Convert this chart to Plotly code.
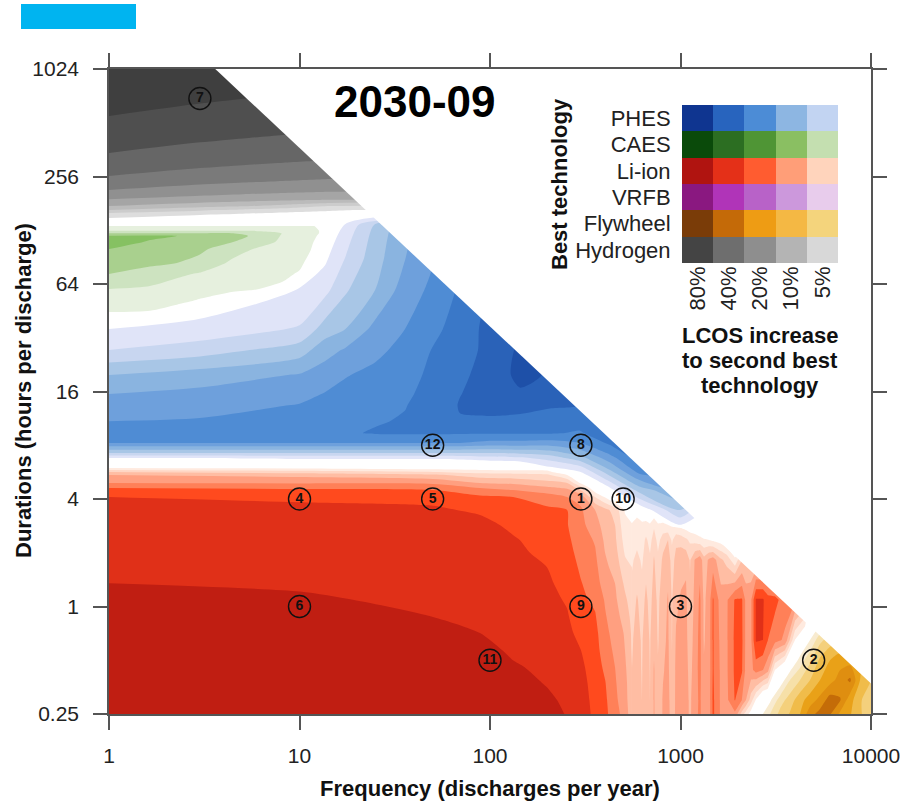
import plotly.graph_objects as go

# ---------- axes ----------
x_ticks = [1, 10, 100, 1000, 10000]
y_ticks = [0.25, 1, 4, 16, 64, 256, 1024]
y_tick_text = ["0.25", "1", "4", "16", "64", "256", "1024"]

# ---------- feasibility limit: frequency x duration (hours per year) ----------
limit_hours = 3700

# ---------- study points ----------
pt_freq = [300, 5000, 1000, 10, 50, 10, 3, 300, 300, 500, 100, 50]
pt_dur = [4, 0.5, 1, 4, 4, 1, 700, 8, 1, 4, 0.5, 8]
pt_label = ["1", "2", "3", "4", "5", "6", "7", "8", "9", "10", "11", "12"]

# ---------- legend ----------
leg_rows = ["Hydrogen", "Flywheel", "VRFB", "Li-ion", "CAES", "PHES"]
leg_cols = ["80%", "40%", "20%", "10%", "5%"]
leg_colors = [
    ["#444444", "#6E6E6E", "#8E8E8E", "#B4B4B4", "#D8D8D8"],
    ["#7A3C08", "#C46A08", "#EE9C14", "#F4B844", "#F4D47C"],
    ["#8A1880", "#B034B8", "#B862C8", "#CC98DC", "#E8CCEC"],
    ["#B01410", "#E43018", "#FF5C30", "#FF9E78", "#FFD4BC"],
    ["#0A4A0A", "#2C6E22", "#4F9535", "#8ABF62", "#C4DFB0"],
    ["#0F3590", "#2864BE", "#4C8CD6", "#8DB6E2", "#C2D4F2"],
]
lcos_lines = ["LCOS increase", "to second best", "technology"]

# ---------- margin level of the best technology on (frequency, duration) grids ----------
h2_f = [1, 3, 5.05, 8.2, 14.4, 23.4]
h2_d = [1024, 559, 347, 258, 215, 191, 175, 166, 160, 150, 139]
h2_z = [
    [9.9, 9.7, 9.6, 9.5, 9.4, 9.3],
    [9, 8.75, 8.65, 8.56, 8.45, 8.4],
    [8, 7.7, 7.58, 7.47, 7.35, 7.25],
    [7, 6.64, 6.49, 6.37, 6.22, 6.12],
    [6, 5.6, 5.45, 5.32, 5.19, 5.1],
    [5, 4.64, 4.47, 4.33, 4.19, 4.06],
    [4, 3.4, 3.1, 2.68, 2, 1.9],
    [3, 2.14, 1.79, 1.49, 1.17, 0.9],
    [2, 1.45, 1.17, 0.9, 0.6, 0.5],
    [1, 0.3, 0.1, 0, -0.3, -0.5],
    [-1, -1, -1, -1, -1, -1],
]
h2_colors = ["#DDDDDD", "#CCCCCC", "#BBBBBB", "#A5A5A5", "#909090", "#7A7A7A", "#666666", "#4F4F4F", "#3F3F3F"]

caes_f = [1, 1.64, 2.27, 3, 4.48, 5.7, 8.19, 10, 11.4, 13.1, 16.3]
caes_d = [146, 135, 127, 123, 119, 110, 100.5, 84, 72.8, 60, 52, 44.6, 37.7]
caes_z = [
    [-1, -1, -1, -1, -1, -1, -1, -1, -1, -1, -1],
    [1.05, 1.05, 1.05, 1.05, 1.05, 1.05, 1.05, 1.05, 1.05, 0.9, -1],
    [2, 2, 2, 2, 2, 2, 2, 1.5, 1.3, 0.9, -1],
    [3, 3, 3, 3, 3, 3, 1.95, 1.5, 1.3, 0.9, -1],
    [4.1, 4.2, 4, 3.8, 3.3, 2.9, 1.9, 1.5, 1.25, 0.8, -1],
    [4.5, 3.9, 3.8, 3.5, 3, 2.7, 1.75, 1.45, 1.15, 0.6, -1],
    [4, 3.7, 3.55, 3.2, 2.4, 2, 1.6, 1.35, 1.05, 0.3, -1],
    [3.45, 3.2, 3, 2.7, 1.8, 1.6, 1.4, 1.2, 0.7, -1, -1],
    [3, 2.6, 2.2, 1.9, 1.5, 1.4, 1.2, 0.9, 0.2, -1, -1],
    [2, 1.85, 1.5, 1.4, 1.1, 1.05, 0.8, 0.3, -1, -1, -1],
    [1.5, 1.4, 1.25, 0.95, 0.7, 0.5, 0.2, -0.5, -1, -1, -1],
    [1, 0.95, 0.6, 0.2, 0, -0.5, -1, -1, -1, -1, -1],
    [-1, -1, -1, -1, -1, -1, -1, -1, -1, -1, -1],
]
caes_colors = ["#E6F0DE", "#CDE3C0", "#A9D08E", "#86C162"]

phes_f = [1, 3, 10, 13.6, 17.3, 24.9, 35.8, 48.4, 69.6, 100, 144, 206, 297, 427, 613, 994, 1611]
phes_d = [166, 137, 87, 59, 35.8, 27.3, 19.8, 15.5, 13.4, 10.9, 9.37, 8.24, 7.24, 6.79, 5.81, 4.49, 3.47, 2.68]
phes_z = [
    [-1, -1, -1, -1, -1, -1, -1, 5.3, 6.4, 7, 8.5, 8.8, 8, 8, 8, 7, 2],
    [-1, -1, -1, -1, 1.1, 3.1, 4.7, 5.5, 6.5, 7.2, 8.5, 8.8, 8, 8, 8, 7, 2],
    [-1, 0, 0.3, 0.85, 2.05, 3.6, 5, 5.85, 6.9, 7.8, 8.5, 8.8, 8, 8, 8, 7, 2],
    [0, 0, 1.05, 1.7, 2.85, 4, 5.5, 6.15, 7.15, 8.1, 8.6, 8.8, 8, 8, 8, 7, 2],
    [1, 1.36, 2.1, 3.45, 3.97, 5.3, 6, 6.7, 7.4, 8.35, 8.8, 8.8, 8, 8, 8, 7, 2],
    [2, 2.5, 3.5, 4.6, 5.1, 5.8, 6.25, 6.98, 7.7, 8.2, 9.2, 8.9, 8, 8, 8, 7, 2],
    [4, 4.47, 5.07, 5.5, 5.95, 6.2, 6.55, 7.2, 7.95, 8.1, 9.4, 8.85, 8, 8, 8, 7, 2],
    [5, 5.27, 5.7, 6.05, 6.2, 6.45, 6.8, 7.35, 7.98, 8.3, 8.8, 8.4, 8, 8, 8, 7, 2],
    [5.4, 5.6, 6.05, 6.25, 6.35, 6.6, 6.95, 7.45, 8.05, 8.3, 8.3, 8.1, 8, 8, 8, 7, 2],
    [6, 6.1, 6.35, 6.5, 6.6, 6.9, 7.1, 7.35, 7.95, 7.85, 7.75, 7.6, 7.4, 8, 8, 7, 2],
    [6.8, 6.8, 6.8, 6.8, 6.85, 7.1, 7.15, 7.15, 7.1, 7.1, 7.1, 7.1, 6.9, 7.7, 8, 7, 2],
    [6, 6, 6, 6, 6, 6, 6, 6, 6, 5.7, 5.7, 5.6, 6, 7.2, 8, 7, 2],
    [3, 3, 3, 3, 3, 3, 3, 3, 3, 3, 3.2, 3.5, 4.5, 6.2, 8, 7, 2],
    [1, 1, 1.2, 1.2, 1.2, 1.2, 1.2, 1.2, 1.3, 1.6, 1.8, 2.4, 3.6, 5.6, 7.5, 7, 2],
    [-1, -1, -1, -1, -1, -1, -1, -1, -1, -1, -1, 0.5, 1.2, 4, 6.6, 6.5, 2],
    [-1, -1, -1, -1, -1, -1, -1, -1, -1, -1, -1, -1, -1, 0.6, 3.5, 5, 2],
    [-1, -1, -1, -1, -1, -1, -1, -1, -1, -1, -1, -1, -1, -1, 0.2, 3, 0],
    [-1, -1, -1, -1, -1, -1, -1, -1, -1, -1, -1, -1, -1, -1, -1, 0.3, -1],
]
phes_colors = ["#E0E4F8", "#C8D6F0", "#A8C6E6", "#8AB4E0", "#6EA0DC", "#4F8CD4", "#3A78C8", "#2A62B8", "#1E50A8"]

liion_f = [1, 10, 50.2, 88.6, 132, 199, 254, 300, 356, 402, 453, 511, 556]
liion_d = [6.62, 5.97, 5.67, 5.45, 4.92, 4.61, 4.10, 3.47, 2.86, 2.36, 2.0, 1.66, 1.35, 1.09, 0.874, 0.71, 0.57, 0.458, 0.373, 0.299, 0.25]
liion_z = [
    [-1, -1, -1, -1, -1, -1, -1, -1, -1, -1, -1, -1, -1],
    [1, 0.8, 0.5, 0.4, 0.3, 0.3, -1, -1, -1, -1, -1, -1, -1],
    [3, 2.5, 2, 1.6, 1.5, 1.4, -0.2, -1, -1, -1, -1, -1, -1],
    [4, 3.7, 3.2, 2.5, 2.4, 2.2, 1, -0.5, -1, -1, -1, -1, -1],
    [5, 4.9, 4.8, 4, 3.8, 3.3, 3, 0.8, -1, -1, -1, -1, -1],
    [6, 5.9, 5.8, 5, 4.7, 4.2, 3.9, 2.5, 0.1, -1, -1, -1, -1],
    [7, 6.9, 6.7, 6.2, 6, 5.5, 5, 4.6, 2, 0.9, -0.5, -0.5, -0.5],
    [7.15, 7.15, 7.15, 6.85, 6.4, 6.2, 6, 5.15, 4, 3.3, 2.6, 0.9, 0.3],
    [7.3, 7.3, 7.3, 7.3, 6.8, 6.4, 6.05, 5.3, 4.4, 3.6, 3, 1.3, 1.1],
    [7.4, 7.4, 7.4, 7.4, 7.1, 6.6, 6.2, 5.5, 4.9, 3.8, 3.2, 1.6, 1.4],
    [7.5, 7.5, 7.5, 7.45, 7.2, 6.8, 6.35, 5.65, 5.1, 4, 3.4, 1.9, 1.7],
    [7.7, 7.65, 7.6, 7.5, 7.3, 7, 6.5, 5.85, 5.3, 4.2, 3.7, 2.3, 2],
    [8, 7.9, 7.7, 7.6, 7.4, 7.15, 6.7, 6.05, 5.5, 4.5, 4, 2.8, 2.3],
    [8.2, 8.1, 7.85, 7.7, 7.45, 7.3, 6.9, 6.2, 5.8, 4.9, 4.2, 3.2, 2.5],
    [8.3, 8.3, 8, 7.85, 7.55, 7.4, 7.1, 6.4, 6.1, 5.1, 4.4, 3.6, 2.7],
    [8.4, 8.4, 8.2, 8, 7.65, 7.5, 7.25, 6.7, 6.3, 5.3, 4.6, 3.9, 2.85],
    [8.5, 8.5, 8.35, 8.3, 7.85, 7.65, 7.4, 7, 6.4, 5.5, 4.8, 4, 2.9],
    [8.6, 8.6, 8.5, 8.5, 8.1, 7.8, 7.55, 7.2, 6.5, 5.8, 5, 4.2, 3],
    [8.7, 8.7, 8.6, 8.7, 8.3, 7.95, 7.7, 7.35, 6.6, 6.05, 5.1, 4.4, 3.05],
    [8.8, 8.8, 8.7, 8.8, 8.5, 8.15, 7.85, 7.45, 6.7, 6.2, 5.2, 4.5, 3.1],
    [8.9, 8.9, 8.8, 8.9, 8.6, 8.3, 7.95, 7.55, 6.75, 6.3, 5.3, 4.7, 3.2],
]
liion_colors = ["#FFEADF", "#FFD6C4", "#FFBDA3", "#FF9F80", "#FF8058", "#FF4A1E", "#E03018", "#C01E12"]

# the striped Li-ion zone at higher frequencies (columns of values)
stripe_d = [4.10, 3.47, 2.86, 2.36, 1.82, 1.09, 0.649, 0.441, 0.299, 0.25]
stripe_cols = [
    (556, [-0.5, 0.3, 1.1, 1.4, 1.8, 2.5, 2.9, 3.0, 3.1, 3.2]),
    (591, [-1, 0.7, 1.3, 1.6, 2.4, 3.1, 3.3, 3.3, 3.4, 3.4]),
    (628, [-1, 0.3, 1.2, 1.5, 1.8, 2.6, 2.9, 2.95, 3, 3]),
    (659, [-1, 0.2, 1.3, 2.2, 2.7, 3.2, 3.5, 3.6, 3.7, 3.7]),
    (692, [-1, 0.1, 1.1, 1.6, 2.2, 2.7, 2.9, 2.95, 3, 3.1]),
    (726, [-1, 0, 1.8, 2.6, 3.1, 3.4, 3.8, 4.1, 4.1, 4.1]),
    (762, [-1, 0, 1.1, 1.6, 2.3, 2.8, 2.9, 3.1, 3.2, 3.3]),
    (809, [-1, -0.2, 1.2, 2.6, 3.2, 3.5, 3.7, 3.9, 4.1, 4.1]),
    (860, [-1, -0.3, 1, 3, 3.6, 4.1, 4.2, 4.3, 4.4, 4.4]),
    (902, [-1, -0.4, 0.9, 1.8, 2.6, 2.9, 2.95, 3.1, 3.3, 3.4]),
    (947, [-1, -0.5, 0.7, 2.8, 3.3, 3.8, 4.1, 4.2, 4.2, 4.2]),
    (1006, [-1, -0.7, 0.6, 2.6, 3.7, 4.1, 4.3, 4.4, 4.4, 4.4]),
    (1069, [-1, -0.8, 0.4, 2.2, 3.8, 4.2, 4.3, 4.4, 4.4, 4.4]),
    (1122, [-1, -0.9, 0.2, 1.8, 2.9, 3.2, 3.4, 3.6, 3.8, 3.8]),
    (1191, [-1, -1, 0.1, 1.6, 4.1, 4.3, 4.5, 4.6, 4.6, 4.7]),
    (1265, [-1, -1, 0, 1.3, 4.7, 5.2, 5.3, 5.3, 5.2, 5.2]),
    (1328, [-1, -1, -0.2, 1.1, 3.4, 3.8, 3.9, 4.1, 4.2, 4.2]),
    (1411, [-1, -1, -0.3, 1, 4.2, 4.4, 4.5, 4.5, 4.5, 4.5]),
    (1481, [-1, -1, -0.5, 0.8, 4.5, 6.1, 6.1, 6.1, 6.2, 6.2]),
    (1632, [-1, -1, -1, 0.5, 3.2, 4.5, 4.7, 4.8, 4.8, 4.8]),
    (1754, [-1, -1, -1, 0.2, 2.6, 4.9, 4.9, 4.9, 4.8, 4.6]),
    (1931, [-1, -1, -1, -1, 1.3, 6.1, 6.2, 6.2, 6.05, 4.8]),
    (2102, [-1, -1, -1, -1, 3, 6.1, 6.2, 6.1, 5, 2.5]),
    (2208, [-1, -1, -1, -1, 3, 4.7, 4.7, 4.7, 4, 1.5]),
    (2344, [-1, -1, -1, -1, 3, 4.8, 4.8, 4.7, 2.5, 0.5]),
    (2489, [-1, -1, -1, -1, 3, 7.1, 7.1, 5.4, 0.9, -1]),
    (2711, [-1, -1, -1, -1, 3, 7.1, 7, 5, -0.8, -1]),
    (2878, [-1, -1, -1, -1, 3, 6.4, 6, 4.3, -1, -1]),
    (3131, [-1, -1, -1, -1, 3, 6.3, 5.4, 1, -1, -1]),
    (3538, [-1, -1, -1, -1, 3, 5.5, 4.8, -0.5, -1, -1]),
    (3990, [-1, -1, -1, -1, -1, 5.2, 1, -1, -1, -1]),
    (4505, [-1, -1, -1, -1, -1, 4, -0.5, -1, -1, -1]),
    (5082, [-1, -1, -1, -1, -1, -1, -1, -1, -1, -1]),
]

fly_f = [2613, 2951, 3330, 3758, 4241, 4786, 5400, 6094, 6877, 7762, 8757, 10000]
fly_d = [0.79, 0.649, 0.5, 0.387, 0.299, 0.25]
fly_z = [
    [-1, -1, -1, -1, -1, -0.5, 1, 2, 3, 3, 3, 3],
    [-1, -1, -1, -1, -0.5, 1, 2.7, 3.5, 4, 4, 4, 4],
    [-1, -1, -1, -0.3, 1.4, 2.8, 4.2, 5, 5.6, 5.6, 5, 4],
    [-1, -1, 0.2, 2, 3, 4, 5, 5.6, 6.4, 7.2, 5, 4],
    [-0.5, 0.8, 2.5, 3.5, 4.6, 5.5, 6.3, 7.5, 7.1, 5.4, 4.2, 3],
    [0.6, 2, 3.3, 4.1, 5, 6.6, 7.4, 7.1, 5.8, 5.1, 4.2, 3],
]
fly_colors = ["#F8EBD0", "#F6E0A8", "#F4D07C", "#F0BC4A", "#E9A118", "#DF8E10", "#C46C08"]

FONT = "Liberation Sans, Arial, sans-serif"
CLEAR = "rgba(255,255,255,0)"


def band_trace(f, d, z, colors, smoothing=0.7):
    """Filled contour: level k..k+1 takes colors[k-1]; below level 1 stays clear."""
    n = len(colors)
    # plotly samples the scale at each band's centre: below start, [0,1), [1,2), ... [n, n+1)
    entries = [CLEAR, CLEAR] + list(colors)
    scale = [[i / (len(entries) - 1), c] for i, c in enumerate(entries)]
    return go.Contour(
        x=f, y=d, z=z, autocontour=False,
        contours=dict(start=0, end=n, size=1, coloring="fill", showlines=False),
        colorscale=scale, showscale=False, line=dict(width=0, smoothing=smoothing),
        hoverinfo="skip",
    )


fig = go.Figure()
fig.add_trace(band_trace(h2_f, h2_d, h2_z, h2_colors))
fig.add_trace(band_trace(caes_f, caes_d, caes_z, caes_colors))
fig.add_trace(band_trace(phes_f, phes_d, phes_z, phes_colors))
fig.add_trace(band_trace(liion_f, liion_d, liion_z, liion_colors))
stripe_f = [c[0] for c in stripe_cols]
stripe_z = [[c[1][r] for c in stripe_cols] for r in range(len(stripe_d))]
fig.add_trace(band_trace(stripe_f, stripe_d, stripe_z, liion_colors, smoothing=0))
fig.add_trace(band_trace(fly_f, fly_d, fly_z, fly_colors))

# white mask: combinations beyond the frequency x duration limit
fig.add_trace(go.Scatter(
    x=[limit_hours / 1024, 10000, 10000, limit_hours / 1024],
    y=[1024, limit_hours / 10000, 1024, 1024],
    mode="lines", fill="toself", fillcolor="white", line=dict(width=0), hoverinfo="skip",
))

fig.add_trace(go.Scatter(
    x=pt_freq, y=pt_dur, mode="markers+text", text=pt_label, textposition="middle center",
    textfont=dict(family=FONT, size=14, color="#111111", weight="bold"),
    marker=dict(symbol="circle-open", size=22, color="#111111", line=dict(width=1.4, color="#111111")),
    hoverinfo="skip",
))

# legend matrix
flat = [c for row in leg_colors for c in row]
leg_z = [[r * len(leg_cols) + c for c in range(len(leg_cols))] for r in range(len(leg_rows))]
fig.add_trace(go.Heatmap(
    x=leg_cols, y=leg_rows, z=leg_z, xaxis="x2", yaxis="y2", zmin=0, zmax=len(flat) - 1,
    colorscale=[[i / (len(flat) - 1), c] for i, c in enumerate(flat)], showscale=False, hoverinfo="skip",
))

W, H = 903, 802
L, R, T, B = 109, 871, 69, 714
px = lambda v: (v - L) / (R - L)
py = lambda v: (B - v) / (B - T)
AX = "#555555"
tick = dict(family=FONT, size=21, color="#222222")
bold = dict(family=FONT, size=22, color="#111111", weight="bold")
ann = dict(xref="paper", yref="paper", showarrow=False, xanchor="center", yanchor="middle")

annotations = [
    dict(text="2030-09", x=px(414), y=py(102), font=dict(family=FONT, size=44, color="#000000", weight="bold"), **ann),
    dict(text="Best technology", x=px(559), y=py(184), textangle=-90, font=bold, **ann),
    dict(text="Durations (hours per discharge)", x=px(23), y=py(391), textangle=-90, font=bold, **ann),
]
for line_text, line_y in zip(lcos_lines, [335, 360, 385]):
    annotations.append(dict(text=line_text, x=px(760), y=py(line_y), font=bold, **ann))

fig.update_layout(
    width=W, height=H, showlegend=False, plot_bgcolor="white", paper_bgcolor="white",
    margin=dict(l=L, r=W - R, t=T, b=H - B, autoexpand=False),
    xaxis=dict(
        type="log", range=[0, 4], tickmode="array", tickvals=x_ticks, ticktext=[str(v) for v in x_ticks],
        ticks="outside", ticklen=14, tickwidth=1.5, tickcolor=AX, showline=True, linecolor=AX, linewidth=1.5,
        mirror="ticks", showgrid=False, zeroline=False, tickfont=tick, ticklabelstandoff=8, automargin=False,
        title=dict(text="Frequency (discharges per year)", font=bold, standoff=15),
    ),
    yaxis=dict(
        type="log", range=[-0.60206, 3.0103], tickmode="array", tickvals=y_ticks, ticktext=y_tick_text,
        ticks="outside", ticklen=14, tickwidth=1.5, tickcolor=AX, showline=True, linecolor=AX, linewidth=1.5,
        mirror="ticks", showgrid=False, zeroline=False, tickfont=tick, ticklabelstandoff=10, automargin=False,
    ),
    xaxis2=dict(
        domain=[px(682), px(838)], anchor="y2", type="category", side="bottom", tickangle=-90,
        ticks="", showline=False, showgrid=False, zeroline=False, ticklabelstandoff=-2,
        tickfont=dict(family=FONT, size=22, color="#222222"), automargin=False,
    ),
    yaxis2=dict(
        domain=[py(263), py(105)], anchor="x2", type="category",
        ticks="outside", ticklen=6, tickcolor="rgba(0,0,0,0)", showline=False, showgrid=False, zeroline=False,
        tickfont=dict(family=FONT, size=22, color="#222222"), automargin=False,
    ),
    shapes=[dict(type="rect", xref="paper", yref="paper", x0=px(21), x1=px(136), y0=py(29), y1=py(4),
                 fillcolor="#00B4F0", line=dict(width=0), layer="above")],
    annotations=annotations,
)

fig.write_html("out.html", config={"displayModeBar": False}, post_script="document.body.style.margin='0';")
